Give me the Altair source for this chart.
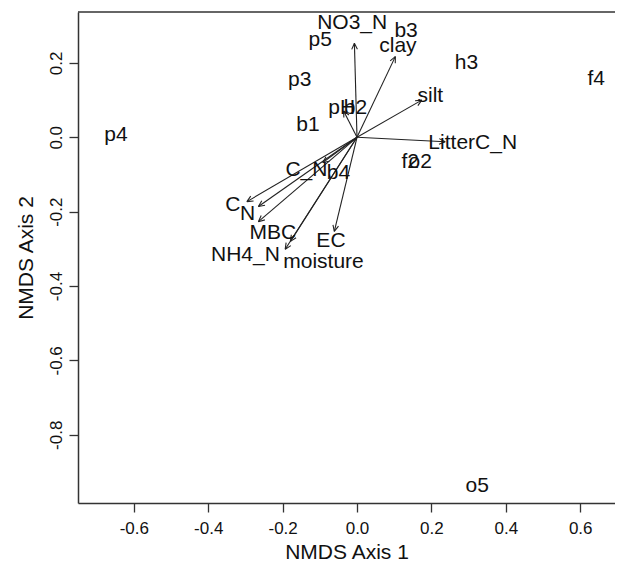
import altair as alt
import pandas as pd
import numpy as np

# ---- site scores (labels drawn as text) ----
site_names = ["p4", "p5", "b3", "h3", "f4", "p3", "b1", "b2", "f2", "o2", "b4", "o5"]
site_x = [-0.648, -0.099, 0.132, 0.294, 0.643, -0.154, -0.132, -0.004, 0.143, 0.170, -0.050, 0.323]
site_y = [0.005, 0.263, 0.286, 0.201, 0.157, 0.154, 0.033, 0.079, -0.066, -0.066, -0.096, -0.939]

# ---- environmental vectors (arrow tips and label positions) ----
vec_names = ["NO3_N", "clay", "silt", "LitterC_N", "pH", "C_N", "C", "N", "MBC", "NH4_N", "moisture", "EC"]
vec_x = [-0.007, 0.103, 0.174, 0.237, -0.036, -0.092, -0.296, -0.265, -0.265, -0.193, -0.179, -0.061]
vec_y = [0.253, 0.217, 0.100, -0.012, 0.071, -0.068, -0.173, -0.186, -0.227, -0.301, -0.280, -0.253]
lab_x = [-0.013, 0.110, 0.197, 0.311, -0.041, -0.136, -0.334, -0.294, -0.226, -0.300, -0.090, -0.070]
lab_y = [0.307, 0.246, 0.110, -0.014, 0.079, -0.088, -0.183, -0.207, -0.257, -0.316, -0.335, -0.280]
origin = (0.0, 0.0)

x_ticks = [-0.6, -0.4, -0.2, 0.0, 0.2, 0.4, 0.6]
y_ticks = [-0.8, -0.6, -0.4, -0.2, 0.0, 0.2]
x_domain = [-0.75, 0.6935]
y_domain = [-0.9836, 0.337]

W, H = 537, 491
FONT = "Liberation Sans"
INK = "#222222"
LABEL_EXPR = "(datum.value < -0.001 ? '-' : '') + format(abs(datum.value), '.1f')"

sites = pd.DataFrame({"name": site_names, "x": site_x, "y": site_y})
vecs = pd.DataFrame({"name": vec_names, "vx": vec_x, "vy": vec_y, "lx": lab_x, "ly": lab_y})
vecs["ox"] = origin[0]
vecs["oy"] = origin[1]

# open arrow heads derived from each vector direction
head_len = 0.018
spread = np.deg2rad(25)
rows = []
for _, r in vecs.iterrows():
    th = np.arctan2(r.vy - r.oy, r.vx - r.ox)
    for s in (-spread, spread):
        rows.append({"hx": r.vx, "hy": r.vy,
                     "hx2": r.vx - head_len * np.cos(th + s),
                     "hy2": r.vy - head_len * np.sin(th + s)})
heads = pd.DataFrame(rows)

xscale = alt.Scale(domain=x_domain, nice=False, zero=False)
yscale = alt.Scale(domain=y_domain, nice=False, zero=False)

xaxis = alt.Axis(values=x_ticks, labelExpr=LABEL_EXPR, grid=False, tickSize=9, tickWidth=1.3,
                 tickColor="#333", domainColor="#333", domainWidth=1.5,
                 labelFont=FONT, labelFontSize=17, labelColor="#111", labelPadding=8,
                 titleFont=FONT, titleFontSize=21, titleFontWeight="normal",
                 titleColor="#111", titlePadding=5, labelFlush=False)
yaxis = alt.Axis(values=y_ticks, labelExpr=LABEL_EXPR, grid=False, tickSize=9, tickWidth=1.3,
                 tickColor="#333", domainColor="#333", domainWidth=1.5,
                 labelFont=FONT, labelFontSize=17, labelColor="#111", labelPadding=4,
                 labelAngle=-90, labelAlign="center", labelBaseline="bottom",
                 titleFont=FONT, titleFontSize=21, titleFontWeight="normal",
                 titleColor="#111", titlePadding=11, labelFlush=False)

XT = "NMDS Axis 1"
YT = "NMDS Axis 2"

frame_top = alt.Chart(pd.DataFrame({"k": [0]})).mark_rule(
    color="#333", strokeWidth=1.5).encode(
    x=alt.value(0), x2=alt.value(W), y=alt.value(0))

shafts = alt.Chart(vecs).mark_rule(color=INK, strokeWidth=1.1).encode(
    x=alt.X("ox:Q", scale=xscale, axis=xaxis, title=XT),
    y=alt.Y("oy:Q", scale=yscale, axis=yaxis, title=YT),
    x2="vx:Q", y2="vy:Q")

head_marks = alt.Chart(heads).mark_rule(color=INK, strokeWidth=1.1).encode(
    x=alt.X("hx:Q", scale=xscale, title=XT),
    y=alt.Y("hy:Q", scale=yscale, title=YT),
    x2="hx2:Q", y2="hy2:Q")

vec_text = alt.Chart(vecs).mark_text(font=FONT, fontSize=21, color="#111",
                                     align="center", baseline="middle").encode(
    x=alt.X("lx:Q", scale=xscale, title=XT),
    y=alt.Y("ly:Q", scale=yscale, title=YT),
    text="name:N")

site_text = alt.Chart(sites).mark_text(font=FONT, fontSize=21, color="#111",
                                       align="center", baseline="middle").encode(
    x=alt.X("x:Q", scale=xscale, title=XT),
    y=alt.Y("y:Q", scale=yscale, title=YT),
    text="name:N")

chart = alt.layer(shafts, head_marks, vec_text, site_text, frame_top).properties(
    width=W, height=H,
    autosize=alt.AutoSizeParams(type="none"),
    padding={"left": 70, "top": 4, "right": 0, "bottom": 62},
    background="white",
).configure_view(stroke=None)

chart.save("out.html", embed_options={"renderer": "svg", "actions": False})
